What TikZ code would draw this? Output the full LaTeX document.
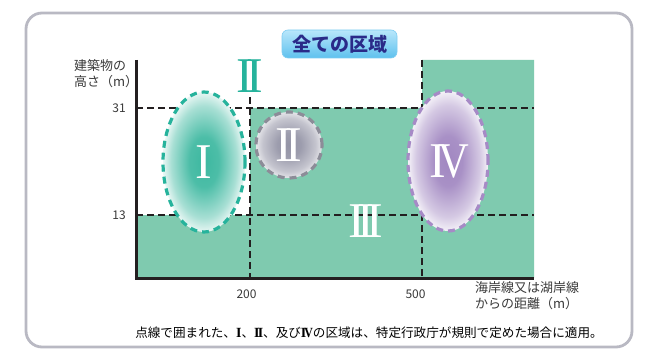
\documentclass[tikz,border=0pt]{standalone}
\usepackage{fontspec}
\usepackage{graphicx}
\newfontfamily\jpfont{Noto Sans CJK JP}
\newfontfamily\numfont{Liberation Serif}

\definecolor{zonegreen}{HTML}{7FCAAF}
\definecolor{tealline}{HTML}{26B39C}
\definecolor{tealfill}{HTML}{3DB8A0}
\definecolor{greyline}{HTML}{8C8C98}
\definecolor{greyfill}{HTML}{9494A6}
\definecolor{purpleline}{HTML}{A68AC6}
\definecolor{purplefill}{HTML}{A187C1}
\definecolor{framegrey}{HTML}{B9B9C3}
\definecolor{axisblack}{HTML}{231F20}
\definecolor{titletop}{HTML}{B9E7FB}
\definecolor{titlebottom}{HTML}{5EC1EE}
\definecolor{titleedge}{HTML}{7FCDF2}
\definecolor{titlenavy}{HTML}{2A2A88}
\definecolor{labelgrey}{HTML}{3A3A3A}

\pgfdeclareradialshading{tealglow}{\pgfpoint{0bp}{0bp}}{color(0bp)=(tealfill);
  color(9bp)=(tealfill!92); color(20bp)=(tealfill!45); color(25bp)=(tealfill!12);
  color(50bp)=(tealfill!12)}
\pgfdeclareradialshading{greyglow}{\pgfpoint{0bp}{0bp}}{color(0bp)=(greyfill);
  color(9bp)=(greyfill!92); color(20bp)=(greyfill!55); color(25bp)=(greyfill!25);
  color(50bp)=(greyfill!25)}
\pgfdeclareradialshading{purpleglow}{\pgfpoint{0bp}{0bp}}{color(0bp)=(purplefill);
  color(9bp)=(purplefill!92); color(20bp)=(purplefill!45); color(25bp)=(purplefill!12);
  color(50bp)=(purplefill!12)}

\newcommand{\romI}{I}
\newcommand{\romII}{I\kern-0.13em I}
\newcommand{\romIII}{I\kern-0.15em I\kern-0.15em I}
\newcommand{\romIV}{I\kern-0.15em\scalebox{0.85}[1]{V}}
\newcommand{\notenum}[1]{{\numfont\bfseries\fontsize{14}{14}\selectfont#1}}

\tikzset{
  numeral/.style={font=\numfont\fontsize{50}{50}\selectfont, inner sep=0pt, text=white},
  zoneborder/.style={line width=3.2pt, dash pattern=on 7pt off 5pt},
  gridline/.style={axisblack, line width=1.4pt, dash pattern=on 7pt off 4pt},
  axis/.style={axisblack, line width=3pt},
  axislabel/.style={font=\jpfont\fontsize{13}{16}\selectfont, text=labelgrey, inner sep=0pt},
  ticklabel/.style={font=\jpfont\fontsize{12}{12}\selectfont, text=labelgrey, inner sep=0pt},
  titlebox/.style={rounded corners=6pt, top color=titletop, bottom color=titlebottom,
    draw=titleedge, line width=0.6pt, minimum width=115pt, minimum height=28pt,
    inner sep=0pt, text=titlenavy, font=\jpfont\bfseries\fontsize{19}{19}\selectfont}
}

\begin{document}
\begin{tikzpicture}[x=1pt,y=-1pt]
  \useasboundingbox (0,0) rectangle (648,350);
  % frame
  \draw[framegrey,line width=2.8pt,rounded corners=16pt,fill=white] (26,13) rectangle (632,347);
  % area of zone III
  \fill[zonegreen] (136,278) -- (136,215) -- (250,215) -- (250,108) -- (422,108)
    -- (422,60) -- (534,60) -- (534,278) -- cycle;
  % limits
  \draw[gridline] (136,108) -- (534,108);
  \draw[gridline] (136,215) -- (534,215);
  \draw[gridline] (250,97) -- (250,278);
  \draw[gridline] (422,60) -- (422,278);
  % axes
  \draw[axis] (136,60) -- (136,278) -- (534,278);
  % zones I, II, IV
  \shade[shading=tealglow] (204,162) ellipse [x radius=41pt,y radius=70pt];
  \draw[tealline,zoneborder] (204,162) ellipse [x radius=41pt,y radius=70pt];
  \shade[shading=greyglow] (289,145) circle [radius=33pt];
  \draw[greyline,zoneborder] (289,145) circle [radius=33pt];
  \shade[shading=purpleglow] (448,161) ellipse [x radius=40pt,y radius=70pt];
  \draw[purpleline,zoneborder] (448,161) ellipse [x radius=40pt,y radius=70pt];
  % numerals
  \node[numeral,text=tealline] (topII) at (250,76) {\romII};
  \node[numeral] (zoneI) at (204,162) {\romI};
  \node[numeral] (zoneII) at (289,145) {\romII};
  \node[numeral] (zoneIII) at (366,221) {\romIII};
  \node[numeral] (zoneIV) at (449,162) {\romIV};
  % title
  \node[titlebox] (title) at (339.5,44) {全ての区域};
  % axis labels
  \node[axislabel,anchor=west,align=left] (ylabel) at (74,74) {建築物の\\高さ（m）};
  \node[axislabel,anchor=west,align=left] (xlabel) at (475,295.5) {海岸線又は湖岸線\\からの距離（m）};
  \node[ticklabel,anchor=east] (y31) at (126,108) {31};
  \node[ticklabel,anchor=east] (y13) at (126,215) {13};
  \node[ticklabel] (x200) at (246.5,294) {200};
  \node[ticklabel] (x500) at (415.5,294) {500};
  % note
  \node[font=\jpfont\fontsize{12.6}{13}\selectfont,inner sep=0pt] (note) at (369,333)
    {点線で囲まれた、\notenum{\romI}、\notenum{\romII}、及び\notenum{\romIV}の区域は、特定行政庁が規則で定めた場合に適用。};
\end{tikzpicture}
\end{document}
